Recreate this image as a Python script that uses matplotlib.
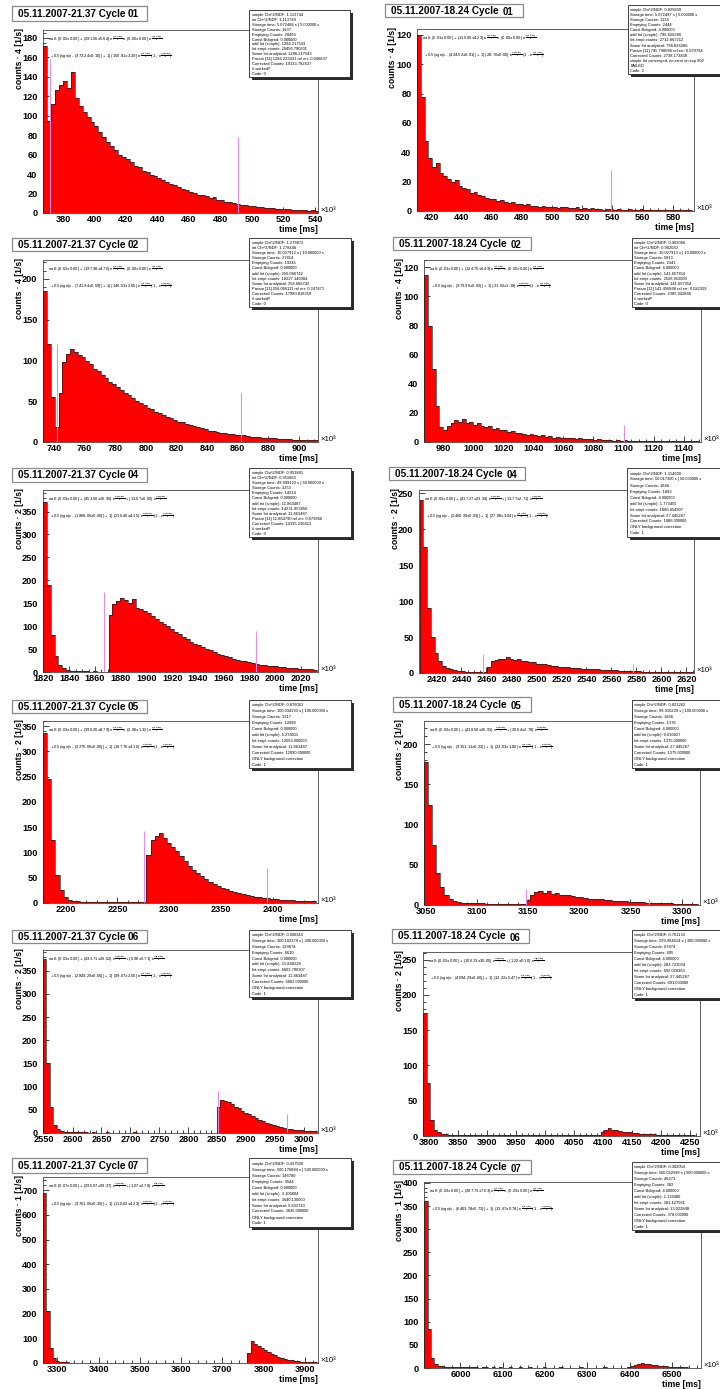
import matplotlib
matplotlib.use("Agg")
import matplotlib.pyplot as plt
from matplotlib.patches import Rectangle
from matplotlib.ticker import MultipleLocator, FormatStrFormatter

plt.rcParams['font.family'] = ['Liberation Sans', 'DejaVu Sans']
plt.rcParams['font.weight'] = 'bold'
plt.rcParams['mathtext.fontset'] = 'dejavusans'

W, H = 720, 1389

# ------------------------------------------------------------------
# Runs and cycles
run_a = "05.11.2007-21.37"
run_b = "05.11.2007-18.24"
cycles = ["01", "02", "04", "05", "06", "07"]
count_scale = ["4", "4", "2", "2", "2", "1"]

# ------------------------------------------------------------------
# Histogram contents: first bin edge, bin width, rates per bin
bins_a01 = (367.5, 2.5)
counts_a01 = [172, 95, 112, 126, 131, 136, 128, 145, 118, 110,
              104, 99, 94, 89, 83, 78, 73, 69, 65, 60,
              58, 55, 52, 48, 47, 43, 42, 39, 38, 36,
              34, 32, 30, 29, 27, 25, 24, 22, 21, 19,
              18, 17, 15, 16, 13, 13, 11, 11, 10, 9,
              8.5, 8, 7, 7.5, 6, 6.5, 5.5, 5, 5.5, 4.5,
              4, 4.5, 4, 3.5, 3, 3.5, 3, 2.5, 3, 2.5]

bins_b01 = (410.5, 2.5)
counts_b01 = [120, 78, 48, 36, 30, 33, 26, 24, 22, 20,
              21, 17, 16, 15, 12, 13, 11, 10, 9, 8.5,
              8, 7, 7.5, 6, 5.5, 6, 5, 4.5, 4, 4.5,
              3.5, 3.5, 3, 3.5, 2.5, 3, 2.5, 2, 3, 2.5,
              2, 2, 2.5, 1.5, 2, 1.5, 2, 1.5, 1.5, 1,
              1.5, 1.5, 1, 1.5, 1, 1, 1.5, 1, 1, 1.5,
              1, 1, 0.5, 1, 1, 0.5, 1, 1, 0.5, 1,
              0.5, 1, 0.5]

bins_a02 = (733.0, 2.5)
counts_a02 = [185, 120, 55, 18, 60, 98, 108, 114, 110, 106,
              104, 99, 96, 90, 87, 82, 79, 74, 71, 67,
              64, 60, 57, 54, 50, 48, 45, 42, 40, 37,
              35, 33, 31, 29, 27, 25, 24, 22, 21, 19,
              18, 17, 16, 14, 13.5, 12.5, 11.5, 11, 10, 9.5,
              9, 8, 8, 7, 6.5, 6.5, 6, 5.5, 5, 5,
              4.5, 4, 4, 3.5, 3.5, 3, 3, 3, 2.5, 2.5,
              2, 2]

bins_b02 = (967.5, 2.5)
counts_b02 = [115, 80, 50, 25, 10, 8, 11, 13, 15, 14,
              16, 13, 14, 12, 13, 11, 10, 11, 9, 9.5,
              8, 8, 7, 7.5, 6, 6.5, 5.5, 5, 5.5, 4.5,
              4, 4.5, 3.5, 4, 3, 3.5, 3, 3, 2.5, 2.5,
              2, 2.5, 2, 2, 2, 1.5, 2, 1.5, 1.5, 1.5,
              1, 1.5, 1, 1.5, 1, 1, 1, 0.5, 1, 1,
              0.5, 1, 0.5, 1, 0.5, 0.5, 1, 0.5, 0.5, 0.5,
              0.5, 0.5, 0.5]

bins_a04 = (1819.5, 3.0)
counts_a04 = [370, 190, 80, 35, 15, 8, 5, 3, 2, 2,
              1.5, 1.5, 1, 1.5, 1, 1, 1, 125, 148, 155,
              162, 158, 150, 160, 140, 138, 134, 128, 122, 116,
              110, 104, 100, 94, 88, 82, 76, 71, 66, 62,
              58, 54, 50, 47, 43, 40, 37, 34, 32, 29,
              27, 25, 23, 21, 19, 18, 16, 15, 14, 13,
              12, 11, 10, 9.5, 8.5, 8, 7, 6.5, 6, 5.5,
              5]

bins_b04 = (2406.5, 3.0)
counts_b04 = [240, 175, 90, 50, 28, 17, 10, 7, 5, 4,
              3, 2.5, 2, 2, 1.5, 1.5, 1, 1.5, 8, 16,
              18, 20, 19, 22, 20, 18, 19, 17, 16, 15,
              15, 13, 13, 12, 11, 10, 10, 9, 8.5, 8,
              7.5, 7, 6.5, 6, 6, 5.5, 5, 5, 4.5, 4,
              4, 3.5, 3.5, 3, 3, 3, 2.5, 2.5, 2.5, 2,
              2, 2, 2, 1.5, 1.5, 1.5, 1.5, 1, 1.5, 1,
              1, 1, 1]

bins_a05 = (2178.0, 4.0)
counts_a05 = [337, 245, 125, 55, 25, 12, 6, 4, 3, 2,
              2, 1.5, 1.5, 1, 1.5, 1, 1, 1.5, 1, 1,
              1, 1, 1, 1, 1, 95, 124, 132, 138, 128,
              118, 110, 102, 92, 84, 74, 66, 60, 53, 47,
              42, 38, 33, 30, 27, 24, 22, 19, 17, 15.5,
              14, 12.5, 11, 10, 9, 8.5, 7.5, 6.5, 6, 5.5,
              5, 4.5, 4, 3.5, 3.5, 3]

bins_b05 = (3048.0, 4.0)
counts_b05 = [178, 125, 75, 40, 22, 12, 7, 5, 4, 3,
              3, 2.5, 2, 2, 2, 1.5, 1.5, 1.5, 1, 1.5,
              1, 1, 1, 1, 1, 6, 13, 16, 18, 15,
              17, 14, 15, 13, 12, 12, 11, 10, 9.5, 9,
              8, 8, 7.5, 7, 6.5, 6, 5.5, 5, 5, 4.5,
              4, 4, 3.5, 3.5, 3, 3, 2.5, 2.5, 2, 2,
              2, 1.5, 1.5, 1.5, 1, 1.5, 1]

bins_a06 = (2549.0, 6.0)
counts_a06 = [375, 150, 55, 18, 8, 5, 3, 2.5, 2, 2,
              1.5, 1.5, 1.5, 1, 1.5, 1, 1, 1, 1.5, 1,
              1, 1, 1, 1, 1, 1, 1.5, 1, 1, 1,
              1, 1, 1, 1, 1, 1, 1, 1, 1, 1,
              1, 1, 1, 1, 1, 1, 1, 1, 1, 1,
              55, 72, 70, 66, 62, 57, 53, 48, 44, 40,
              36, 32, 28, 25, 22, 20, 17, 15, 13, 11,
              9.5, 8, 7, 6, 5.5, 5, 4.5, 4, 3.5]

bins_b06 = (3790.0, 6.0)
counts_b06 = [175, 75, 22, 9, 5, 3, 2.5, 2, 1.5, 1.5,
              1, 1.5, 1, 1, 1, 1.5, 1, 1, 1, 1,
              1, 1, 1, 1, 1, 1, 1, 1, 1, 1,
              1, 1, 1, 1, 1, 1, 1, 1, 1, 1,
              1, 1, 1, 1, 1, 1, 1, 1, 1, 1,
              1, 5, 9, 11, 9, 8, 7, 6, 5.5, 5,
              4.5, 4, 3.5, 3, 3, 2.5, 2.5, 2, 2, 1.5,
              1.5, 1.5, 1, 1, 1, 1, 1, 1, 0.5]

bins_a07 = (3265.0, 8.0)
counts_a07 = [690, 210, 60, 22, 9, 5, 3, 2.5, 2, 2,
              1.5, 1.5, 1.5, 1, 1.5, 1, 1, 1, 1, 1,
              1, 1, 1, 1, 1, 1, 1, 1, 1, 1,
              1, 1, 1, 1, 1, 1, 1, 1, 1, 1,
              1, 1, 1, 1, 1, 1, 1, 1, 1, 1,
              1, 1, 1, 1, 1, 1, 1, 1, 1, 1,
              1, 1, 40, 88, 78, 68, 60, 52, 44, 37,
              31, 26, 21, 17, 14, 11, 9, 7, 6, 5,
              4, 3.5, 3]

bins_b07 = (5914.0, 8.0)
counts_b07 = [360, 85, 22, 9, 5, 3.5, 3, 2.5, 2, 2,
              1.5, 2, 1.5, 1.5, 1.5, 1.5, 1, 1.5, 1.5, 1,
              1.5, 1, 1.5, 1, 1, 1.5, 1, 1, 1.5, 1,
              1, 1.5, 1, 1, 1, 1.5, 1, 1, 1, 1,
              1.5, 1, 1, 1, 1, 1, 1.5, 1, 1, 1,
              1, 1, 1, 1.5, 1, 1, 1, 1, 1, 1,
              1.5, 4, 7, 9, 11, 9, 8, 7, 5.5, 5,
              4, 3.5, 3, 2.5, 2, 2, 1.5, 1.5, 1, 1,
              1, 1]

# Marker lines (time, height)
marks_a01 = [(372, 158), (491, 78)]
marks_b01 = [(539, 28)]
marks_a02 = [(742, 120), (862, 60)]
marks_b02 = [(1100, 12)]
marks_a04 = [(1867, 175), (1985, 89)]
marks_b04 = [(2457, 26), (2577, 13)]
marks_a05 = [(2276, 143), (2395, 70)]
marks_b05 = [(3148, 20), (3268, 8)]
marks_a06 = [(2851, 90), (2971, 42)]
marks_b06 = []
marks_a07 = []
marks_b07 = []

# Axis ranges (x range, y maximum) and tick steps (major, minor)
xrange_a = [(367.3, 542), (732.8, 912.4), (1819.5, 2033.4),
            (2178, 2444), (2549, 3024), (3265, 3932)]
xrange_b = [(410.5, 594), (967.3, 1151.5), (2406.1, 2626),
            (3048, 3318), (3789.6, 4267), (5913.7, 6568.7)]
ymax_a = [188, 223, 397, 360, 394.5, 754]
ymax_b = [124, 125, 254.6, 229, 260.8, 402]
xticks_a = [(20, 5), (20, 5), (20, 5), (50, 10), (50, 10), (100, 20)]
xticks_b = [(20, 5), (20, 5), (20, 5), (50, 10), (50, 10), (100, 20)]
yticks_a = [(20, 5), (50, 10), (50, 10), (50, 10), (50, 10), (100, 20)]
yticks_b = [(20, 5), (20, 5), (50, 10), (50, 10), (50, 10), (50, 10)]

# Fit function annotations
EXP1 = r"$^{\frac{-(t-t_{0})}{\tau_{1}}}$"
EXP2 = r"$^{\frac{-(t-t_{0})}{\tau_{2}}}$"
EXP3 = r"$^{\frac{-(t-t_{1})}{\tau_{3}}}$"
fit_a = [("(0.02±0.00)", "(291.66±5.64)", "(0.00±0.00)", "(373.24±0.10)", "(156.81±3.39)"),
         ("(0.02±0.00)", "(197.98±4.76)", "(0.00±0.00)", "(741.94±0.09)", "(146.53±2.05)"),
         ("(0.03±0.00)", "(453.06±26.96)", "(13.07±0.00)", "(1868.06±0.06)", "(216.40±4.15)"),
         ("(0.03±0.00)", "(390.20±8.79)", "(2.90±1.32)", "(2275.06±0.06)", "(167.76±4.16)"),
         ("(0.03±0.00)", "(433.71±26.62)", "(0.90±0.71)", "(2849.29±0.06)", "(99.07±2.05)"),
         ("(0.07±0.00)", "(295.07±93.37)", "(1.07±2.78)", "(3761.06±0.10)", "(110.62±4.23)")]
fit_b = [("(0.01±0.00)", "(115.06±4.23)", "(0.00±0.00)", "(424.52±0.01)", "(28.70±0.00)"),
         ("(0.01±0.00)", "(124.75±6.49)", "(0.00±0.00)", "(979.30±0.02)", "(21.02±1.18)"),
         ("(0.02±0.00)", "(417.27±23.93)", "(13.77±2.71)", "(2460.93±0.03)", "(27.08±3.04)"),
         ("(0.02±0.00)", "(418.50±26.91)", "(20.64±2.78)", "(3151.11±0.22)", "(23.03±1.80)"),
         ("(0.02±0.00)", "(106.13±30.05)", "(1.22±0.10)", "(4094.29±0.66)", "(12.22±5.47)"),
         ("(0.03±0.00)", "(287.73±7.03)", "(0.29±0.00)", "(6463.78±0.73)", "(13.67±0.78)")]

# Fit summary boxes
stats_a01 = ["simple Chi^2/NDF: 1.113744", "int Chi^2/NDF: 1.113749",
             "Storage time: 5.072468 s | 5.000000 s", "Storage Counts: 1637",
             "Emptying Counts: 20496", "Const Bckgrnd: 0.000000",
             "add Int (simple): 1286.217543", "Int empt counts: 20456.790201",
             "Some Int analytical: 1286.217543", "Param [11] 1286.223431 rel err: 0.046837",
             "Corrected Counts: 19133.782637", "# worked!!", "Code: 0"]
stats_b01 = ["simple Chi^2/NDF: 0.825809", "Storage time: 5.072497 s | 5.000000 s",
             "Storage Counts: 1134", "Emptying Counts: 2444", "Const Bckgrnd: 4.000000",
             "add Int (simple): 796.826286", "Int empt counts: 2712.867212",
             "Some Int analytical: 796.826286", "Param [11] 795.798686 rel err: 0.079794",
             "Corrected Counts: 2738.173808", "simple Int converged, no error on exp 802",
             "FAILED", "Code: 2"]
stats_a02 = ["simple Chi^2/NDF: 1.279872", "int Chi^2/NDF: 1.278446",
             "Storage time: 10.027912 s | 10.000000 s", "Storage Counts: 27814",
             "Emptying Counts: 19245", "Const Bckgrnd: 0.000000",
             "add Int (simple): 256.066742", "Int empt counts: 18227.140384",
             "Some Int analytical: 256.066742", "Param [11] 256.066111 rel err: 0.247871",
             "Corrected Counts: 17980.818259", "# worked!!", "Code: 0"]
stats_b02 = ["simple Chi^2/NDF: 0.962066", "int Chi^2/NDF: 0.962080",
             "Storage time: 10.027913 s | 10.000000 s", "Storage Counts: 5813",
             "Emptying Counts: 2341", "Const Bckgrnd: 4.000000",
             "add Int (simple): 141.657354", "Int empt counts: 2526.952060",
             "Some Int analytical: 141.657354", "Param [11] 141.456868 rel err: 0.082359",
             "Corrected Counts: 2385.942846", "# worked!!", "Code: 0"]
stats_a04 = ["simple Chi^2/NDF: 0.951861", "int Chi^2/NDF: 0.951863",
             "Storage time: 49.999122 s | 50.000000 s", "Storage Counts: 3253",
             "Emptying Counts: 14214", "Const Bckgrnd: 0.000000",
             "add Int (simple): 11.863487", "Int empt counts: 14231.953856",
             "Some Int analytical: 11.863487", "Param [11] 11.864790 rel err: 0.073966",
             "Corrected Counts: 14195.236613", "# worked!!", "Code: 0"]
stats_b04 = ["simple Chi^2/NDF: 1.114600", "Storage time: 50.017300 s | 50.000000 s",
             "Storage Counts: 1846", "Emptying Counts: 1883", "Const Bckgrnd: 4.000000",
             "add Int (simple): 1.773455", "Int empt counts: 1686.654907",
             "Some Int analytical: 27.445287", "Corrected Counts: 1686.000000",
             "ONLY background correction", "Code: 1"]
stats_a05 = ["simple Chi^2/NDF: 0.876063", "Storage time: 100.034193 s | 100.000000 s",
             "Storage Counts: 3317", "Emptying Counts: 12098", "Const Bckgrnd: 0.000000",
             "add Int (simple): 5.278011", "Int empt counts: 12093.000000",
             "Some Int analytical: 11.863487", "Corrected Counts: 12090.000000",
             "ONLY background correction", "Code: 1"]
stats_b05 = ["simple Chi^2/NDF: 0.821262", "Storage time: 99.916229 s | 100.000000 s",
             "Storage Counts: 1866", "Emptying Counts: 1378", "Const Bckgrnd: 4.000000",
             "add Int (simple): 0.016827", "Int empt counts: 1375.000000",
             "Some Int analytical: 27.445287", "Corrected Counts: 1375.000000",
             "ONLY background correction", "Code: 1"]
stats_a06 = ["simple Chi^2/NDF: 0.000343", "Storage time: 300.102379 s | 300.000000 s",
             "Storage Counts: 129674", "Emptying Counts: 6610", "Const Bckgrnd: 0.000000",
             "add Int (simple): 15.868228", "Int empt counts: 6603.790307",
             "Some Int analytical: 11.863487", "Corrected Counts: 6602.000000",
             "ONLY background correction", "Code: 1"]
stats_b06 = ["simple Chi^2/NDF: 0.761133", "Storage time: 299.994614 s | 300.000000 s",
             "Storage Counts: 67874", "Emptying Counts: 695", "Const Bckgrnd: 4.000000",
             "add Int (simple): 283.723034", "Int empt counts: 692.028363",
             "Some Int analytical: 27.445287", "Corrected Counts: 691.000000",
             "ONLY background correction", "Code: 1"]
stats_a07 = ["simple Chi^2/NDF: 0.437500", "Storage time: 500.176884 s | 500.000000 s",
             "Storage Counts: 146780", "Emptying Counts: 3644", "Const Bckgrnd: 0.000000",
             "add Int (simple): 3.106804", "Int empt counts: 3640.130000",
             "Some Int analytical: 5.831743", "Corrected Counts: 3636.000000",
             "ONLY background correction", "Code: 1"]
stats_b07 = ["simple Chi^2/NDF: 0.302054", "Storage time: 500.052599 s | 500.000000 s",
             "Storage Counts: 46273", "Emptying Counts: 382", "Const Bckgrnd: 4.000000",
             "add Int (simple): 1.135080", "Int empt counts: 381.127561",
             "Some Int analytical: 13.022848", "Corrected Counts: 378.000000",
             "ONLY background correction", "Code: 1"]

counts_a = [counts_a01, counts_a02, counts_a04, counts_a05, counts_a06, counts_a07]
counts_b = [counts_b01, counts_b02, counts_b04, counts_b05, counts_b06, counts_b07]
bins_a = [bins_a01, bins_a02, bins_a04, bins_a05, bins_a06, bins_a07]
bins_b = [bins_b01, bins_b02, bins_b04, bins_b05, bins_b06, bins_b07]
marks_a = [marks_a01, marks_a02, marks_a04, marks_a05, marks_a06, marks_a07]
marks_b = [marks_b01, marks_b02, marks_b04, marks_b05, marks_b06, marks_b07]
stats_a = [stats_a01, stats_a02, stats_a04, stats_a05, stats_a06, stats_a07]
stats_b = [stats_b01, stats_b02, stats_b04, stats_b05, stats_b06, stats_b07]

# ------------------------------------------------------------------
# Page layout in pixels: frame, title box, summary box
frames_a = [(43, 30, 318, 213), (43, 260, 318, 442), (43, 490, 318, 672),
            (43, 721, 318, 903), (43, 950, 318, 1133), (43, 1177, 318, 1363)]
frames_b = [(417, 29, 694, 211), (424, 260, 701, 442), (419, 490, 694, 673),
            (424, 721, 700, 905), (423, 952, 700, 1136), (424, 1182, 701, 1368)]
titles_a = [(12, 6, 147, 21), (12, 238, 147, 251), (12, 468, 147, 482),
            (12, 700, 147, 713), (12, 930, 147, 943), (12, 1158, 147, 1173)]
titles_b = [(385, 4, 523, 17), (393, 237, 531, 250), (389, 467, 525, 480),
            (393, 697, 531, 712), (392, 929, 529, 943), (393, 1160, 531, 1174)]
boxes_a = [(249, 10, 350, 77), (249, 238, 351, 307), (249, 468, 351, 537),
           (249, 700, 351, 768), (249, 930, 351, 997), (249, 1158, 351, 1227)]
boxes_b = [(628, 5, 724, 74), (632, 238, 724, 307), (627, 468, 724, 537),
           (632, 700, 724, 768), (632, 930, 724, 998), (632, 1162, 724, 1230)]

fig = plt.figure(figsize=(W / 100, H / 100), dpi=100)
fig.patch.set_facecolor("white")


def fx(x):
    return x / W


def fy(y):
    return 1 - y / H


def add_rect(x0, y0, x1, y1, **kw):
    r = Rectangle((fx(x0), fy(y1)), (x1 - x0) / W, (y1 - y0) / H,
                  transform=fig.transFigure, **kw)
    fig.add_artist(r)


def draw_panel(frame, tbox, sbox, run, cycle, counts, bins, marks,
               xr, ymax, xt, yt, scale, fit, stats, right):
    x0, y0, x1, y1 = frame
    ax = fig.add_axes([fx(x0), fy(y1), (x1 - x0) / W, (y1 - y0) / H])
    start, width = bins
    edges = [start + i * width for i in range(len(counts) + 1)]
    ax.stairs(counts, edges, fill=True, color="#ff0000", lw=0, zorder=2)
    ax.stairs(counts, edges, color="#1a1a1a", lw=0.45, zorder=3)
    for t, h in marks:
        ax.vlines(t, 0, h, color="#e58ee5", lw=0.8, zorder=4)
    ax.set_xlim(*xr)
    ax.set_ylim(0, ymax)
    ax.xaxis.set_major_locator(MultipleLocator(xt[0]))
    ax.xaxis.set_minor_locator(MultipleLocator(xt[1]))
    ax.yaxis.set_major_locator(MultipleLocator(yt[0]))
    ax.yaxis.set_minor_locator(MultipleLocator(yt[1]))
    ax.xaxis.set_major_formatter(FormatStrFormatter("%d"))
    ax.yaxis.set_major_formatter(FormatStrFormatter("%d"))
    ax.tick_params(which="both", direction="in", top=False, right=False,
                   width=0.6, colors="#222222", labelcolor="black")
    ax.tick_params(which="major", length=4.5)
    ax.tick_params(which="minor", length=2.2)
    ax.tick_params(axis="x", labelsize=6.6, pad=1.5)
    ax.tick_params(axis="y", labelsize=6.6, pad=4)
    for lab in ax.get_xticklabels() + ax.get_yticklabels():
        lab.set_fontweight("bold")
    for sp in ax.spines.values():
        sp.set_linewidth(0.6)
        sp.set_color("#444444")

    # fit function text
    line1 = ("wall: " + fit[0] + " + " + fit[1] + " e" + EXP1 +
             " + " + fit[2] + " e" + EXP2)
    line2 = ("+ 0.5(sgn(x - " + fit[3] + ") + 1) " + fit[4] + " e" + EXP3 +
             " (1 - e" + EXP3 + ")")
    ax.text(0.018, 0.95, line1, transform=ax.transAxes, fontsize=3.0,
            fontweight="normal", ha="left", va="center", zorder=5)
    ax.text(0.025, 0.855, line2, transform=ax.transAxes, fontsize=3.0,
            fontweight="normal", ha="left", va="center", zorder=5)

    # axis titles
    fig.text(fx(x0 - 24), fy(y0 - 2), f"counts · {scale} [1/s]", rotation=90,
             ha="center", va="top", fontsize=6.2, fontweight="bold")
    fig.text(fx(x1), fy(y1 + 16.5), "time [ms]", ha="right", va="center",
             fontsize=6.3, fontweight="bold")
    fig.text(fx(x1 + 2), fy(y1 - 2.5), "×10³", ha="left", va="center",
             fontsize=5.6, fontweight="normal")

    # title box
    tx0, ty0, tx1, ty1 = tbox
    add_rect(tx0, ty0, tx1, ty1, facecolor="white", edgecolor="#8a8a8a",
             lw=0.9, zorder=5)
    fig.text(fx(tx0 + 6.3), fy((ty0 + ty1) / 2 + 0.3), f"{run} Cycle", ha="left",
             va="center", fontsize=7.2, fontweight="bold", zorder=6)
    nx = tx0 + (118 if right else 116)
    ny = (ty0 + ty1) / 2 + (1.8 if right else 0.3)
    fig.text(fx(nx), fy(ny), cycle, ha="left", va="center",
             fontsize=6.9 if right else 7.2, fontweight="bold", zorder=6)

    # summary box with shadow
    bx0, by0, bx1, by1 = sbox
    add_rect(bx0 + 3, by0 + 3, bx1 + 3, by1 + 3, facecolor="#2a2a2a",
             edgecolor="none", zorder=5)
    add_rect(bx0, by0, bx1, by1, facecolor="white", edgecolor="#222222",
             lw=0.6, zorder=5.5)
    step = (by1 - by0 - 3) / len(stats)
    for i, s in enumerate(stats):
        fig.text(fx(bx0 + 2.5), fy(by0 + 2.5 + step * (i + 0.5)), s, ha="left",
                 va="center", fontsize=2.9, fontweight="normal", zorder=6)


for i in range(6):
    draw_panel(frames_a[i], titles_a[i], boxes_a[i], run_a, cycles[i],
               counts_a[i], bins_a[i], marks_a[i], xrange_a[i], ymax_a[i],
               xticks_a[i], yticks_a[i], count_scale[i], fit_a[i], stats_a[i],
               False)
    draw_panel(frames_b[i], titles_b[i], boxes_b[i], run_b, cycles[i],
               counts_b[i], bins_b[i], marks_b[i], xrange_b[i], ymax_b[i],
               xticks_b[i], yticks_b[i], count_scale[i], fit_b[i], stats_b[i],
               True)

fig.savefig("out.png", dpi=100, facecolor="white")
